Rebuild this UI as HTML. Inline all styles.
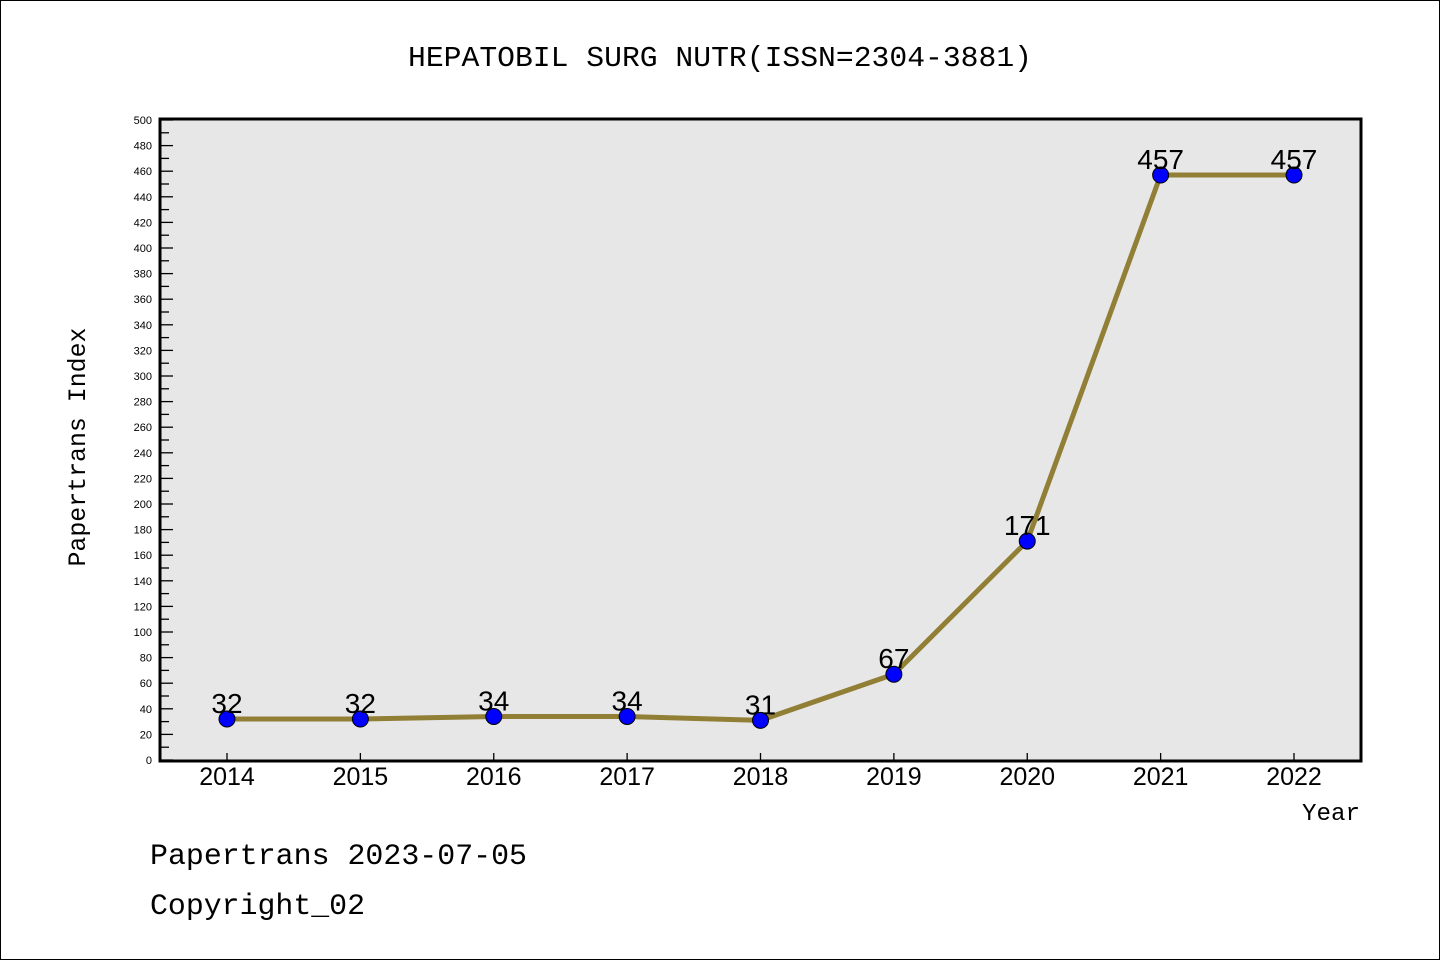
<!DOCTYPE html>
<html><head><meta charset="utf-8"><style>
html,body{margin:0;padding:0;background:#fff}
svg{display:block}
text{font-family:"Liberation Sans",sans-serif}
.mono{font-family:"Liberation Mono",monospace}
</style></head><body>
<svg id="c" width="1440" height="960">
<rect x="0.5" y="0.5" width="1439" height="959" fill="#fff" stroke="#000"/>
<text class="mono" x="408" y="66" font-size="29" textLength="624" lengthAdjust="spacingAndGlyphs">HEPATOBIL SURG NUTR(ISSN=2304-3881)</text>
<rect x="160" y="120" width="1201" height="640" fill="#e7e7e7"/>
<g id="ticks"></g>
<g id="series"></g>
<path d="M160 119 H1361 V761 H160 Z" fill="none" stroke="#000" stroke-width="3"/>
<text class="mono" x="85" y="447" font-size="25" text-anchor="middle" textLength="239" lengthAdjust="spacingAndGlyphs" transform="rotate(-90 85 447)">Papertrans Index</text>
<text class="mono" x="1302" y="820" font-size="24" textLength="58" lengthAdjust="spacingAndGlyphs">Year</text>
<text class="mono" x="150" y="864" font-size="30" textLength="377" lengthAdjust="spacingAndGlyphs">Papertrans 2023-07-05</text>
<text class="mono" x="150" y="914" font-size="30" textLength="215" lengthAdjust="spacingAndGlyphs">Copyright_02</text>
</svg>
<script>
const years=["2014","2015","2016","2017","2018","2019","2020","2021","2022"];
const values=[32,32,34,34,31,67,171,457,457];
const yMax=500;
const NS="http://www.w3.org/2000/svg";
function X(i){return 227+i*(1294-227)/(years.length-1);}
function Y(v){return 760-v*640/yMax;}
function mk(tag,attrs,parent,txt){const e=document.createElementNS(NS,tag);for(const k in attrs)e.setAttribute(k,attrs[k]);if(txt!==undefined)e.textContent=txt;parent.appendChild(e);return e;}
const tg=document.getElementById('ticks'),sg=document.getElementById('series');
for(let v=0;v<=yMax;v+=10){
  const major=v%20===0;
  const l=mk('line',{x1:160,x2:major?173:169,y1:Y(v),y2:Y(v),stroke:'#000','stroke-width':1.3},tg);
  
  
  if(major){const t=mk('text',{x:152,y:Y(v)+4,'font-size':11,'text-anchor':'end'},tg,String(v));
    
    }
}
years.forEach((y,i)=>{
  const l=mk('line',{x1:X(i),x2:X(i),y1:760,y2:753,stroke:'#000','stroke-width':1.3},tg);
  
  
  const t=mk('text',{x:X(i),y:785,'font-size':25,'text-anchor':'middle'},tg,y);
  
  
});
const pl=mk('polyline',{points:values.map((v,i)=>X(i)+','+Y(v)).join(' '),fill:'none',stroke:'#917f36','stroke-width':5},sg);


values.forEach((v,i)=>{
  const c=mk('circle',{cx:X(i),cy:Y(v),r:8,fill:'#0000ff',stroke:'#000','stroke-width':1},sg);
  
  
  const t=mk('text',{x:X(i),y:Y(v)-6,'font-size':28,'text-anchor':'middle'},sg,String(v));
  
  
});
</script>
</body></html>
